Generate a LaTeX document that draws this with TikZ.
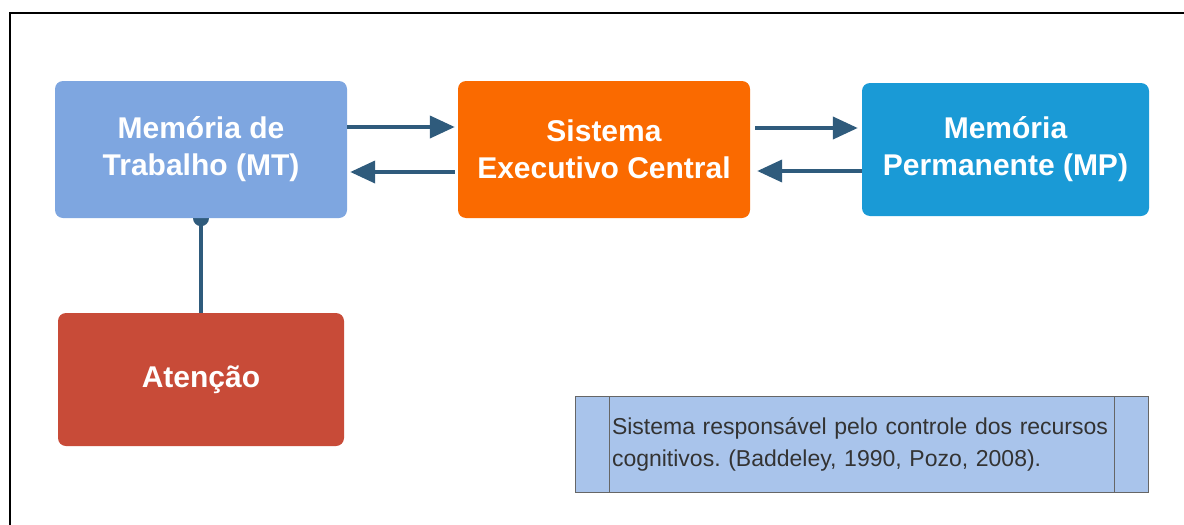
\documentclass[tikz,border=0pt]{standalone}
\usepackage{fontspec}
\setmainfont{Liberation Sans}
\usetikzlibrary{arrows.meta,backgrounds}

\definecolor{azulMT}{HTML}{7EA6E0}
\definecolor{laranjaSEC}{HTML}{FA6A00}
\definecolor{azulMP}{HTML}{1A9AD6}
\definecolor{vermelhoAt}{HTML}{C84B38}
\definecolor{azulNota}{HTML}{A9C4EB}
\definecolor{seta}{HTML}{2F5B7C}

\tikzset{
  caixa/.style={rounded corners=8pt, text=white, align=center,
    font=\bfseries\fontsize{30}{37}\selectfont, inner sep=0pt},
  ligacao/.style={draw=seta, line width=4pt, -{Triangle[length=25pt,width=22pt]}},
}

\begin{document}
\frenchspacing
\begin{tikzpicture}[x=1pt, y=-1pt]
\useasboundingbox (0,0) rectangle (1184,525);

% Moldura
\draw[line width=2.5pt] (10,530) -- (10,13) -- (1190,13);

% Caixas principais
\node[caixa, fill=azulMT, minimum width=292pt, minimum height=137pt] (MT) at (201,149.5) {Memória de\\Trabalho (MT)};
\node[caixa, fill=laranjaSEC, minimum width=292pt, minimum height=137pt] (SEC) at (604,149.5) {Sistema\\Executivo Central};
\node[caixa, fill=azulMP, minimum width=287pt, minimum height=133pt] (MP) at (1005.5,149.5) {Memória\\Permanente (MP)};
\node[caixa, fill=vermelhoAt, minimum width=286pt, minimum height=133pt] (AT) at (201,379.5) {\raisebox{-3pt}{Atenção}};

% Nota
\node[draw=black!60, line width=1pt, fill=azulNota, minimum width=573pt, minimum height=96pt,
  text width=505pt, align=left, inner sep=0pt, text=black!80,
  font=\fontsize{23}{32}\selectfont,
  path picture={
    \draw[black!60, line width=1pt] ([xshift=34pt]path picture bounding box.north west) -- ([xshift=34pt]path picture bounding box.south west);
    \draw[black!60, line width=1pt] ([xshift=-34pt]path picture bounding box.north east) -- ([xshift=-34pt]path picture bounding box.south east);
  }] (nota) at (861.5,444) {\hspace*{3pt}Sistema responsável pelo controle dos recursos\\\hspace*{3pt}cognitivos. (Baddeley, 1990, Pozo, 2008).};

% Setas
\draw[ligacao, shorten >=3pt] ([yshift=22.5pt]MT.east) -- ([yshift=22.5pt]SEC.west);
\draw[ligacao, shorten <=3pt, shorten >=3pt] ([yshift=-22.5pt]SEC.west) -- ([yshift=-22.5pt]MT.east);
\draw[ligacao, shorten <=5pt, shorten >=4pt] ([yshift=21.5pt]SEC.east) -- ([yshift=21.5pt]MP.west);
\draw[ligacao, shorten >=7pt] ([yshift=-21.5pt]MP.west) -- ([yshift=-21.5pt]SEC.east);

% Ligacao MT - Atencao
\begin{scope}[on background layer]
\draw[seta, line width=4pt] (MT.south) -- (AT.north);
\fill[seta] (MT.south) circle (8pt);
\end{scope}

\end{tikzpicture}
\end{document}
